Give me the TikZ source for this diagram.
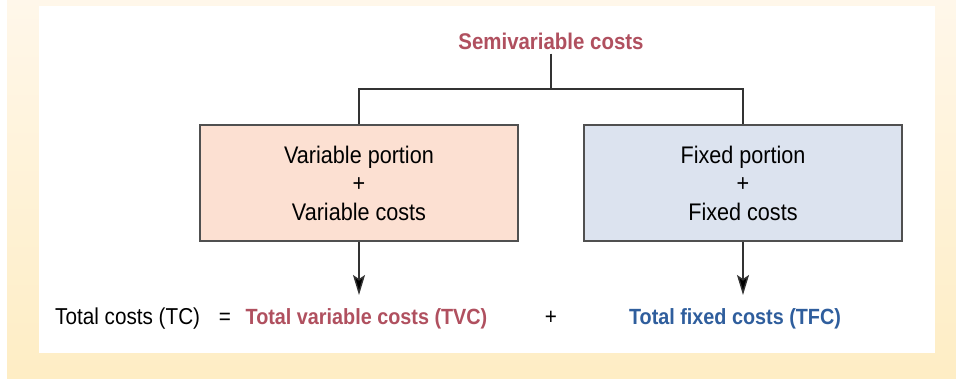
\documentclass[tikz,border=0pt]{standalone}
\usepackage{fontspec}
\setmainfont[FakeStretch=0.9]{Liberation Sans}
\usetikzlibrary{arrows.meta}
\definecolor{creamtop}{HTML}{FFF7EA}
\definecolor{creambot}{HTML}{FEEDC4}
\definecolor{rose}{HTML}{B0505F}
\definecolor{steel}{HTML}{2F5E9D}
\definecolor{peach}{HTML}{FCE0D2}
\definecolor{paleblue}{HTML}{DCE3EF}
\definecolor{edge}{HTML}{505050}
\begin{document}
\begin{tikzpicture}[x=1pt,y=-1pt,
  txt/.style={font=\fontsize{24}{28.5}\selectfont, inner sep=0pt},
  rowtxt/.style={font=\fontsize{23}{28.5}\selectfont, inner sep=0pt},
  boldtxt/.style={inner sep=0pt, font=\fontsize{22}{28.5}\selectfont\bfseries},
  boxnode/.style={txt, draw=edge, line width=1.6pt, minimum width=318pt,
    minimum height=116pt, align=center},
  link/.style={draw=black!80, line width=1.4pt},
  arr/.style={link, -{Stealth[length=20pt,width=12pt,inset=4pt,fill=black]}}]
  % page and panel
  \useasboundingbox (0,0) rectangle (956,379);
  \shade[top color=creamtop, bottom color=creambot] (7,0) rectangle (956,379);
  \fill[white] (39,6) rectangle (935,353);
  % title and split
  \node[boldtxt, text=rose, font=\fontsize{22.7}{28.5}\selectfont\bfseries] (top) at (551,41) {Semivariable costs};
  \node[boxnode, fill=peach] (lbox) at (359,183) {Variable portion\\+\\Variable costs};
  \node[boxnode, fill=paleblue] (rbox) at (743,183) {Fixed portion\\+\\Fixed costs};
  \coordinate (j) at (551,89);
  \draw[link] (top.south) ++(0,4) -- (j);
  \draw[link] (lbox.north) |- (j) -| (rbox.north);
  % equation row
  \node[rowtxt, anchor=base west] (tc) at (55,325) {Total costs (TC)};
  \node[rowtxt, anchor=base] (eq) at (225,325) {=};
  \node[boldtxt, anchor=base, text=rose] (tvc) at (366.5,325) {Total variable costs (TVC)};
  \node[rowtxt, anchor=base] (plus) at (551,325) {+};
  \node[boldtxt, anchor=base, text=steel] (tfc) at (735,325) {Total fixed costs (TFC)};
  \coordinate (la) at (359,295);
  \coordinate (ra) at (743,295);
  \draw[arr] (lbox.south) -- (la);
  \draw[arr] (rbox.south) -- (ra);
\end{tikzpicture}
\end{document}
